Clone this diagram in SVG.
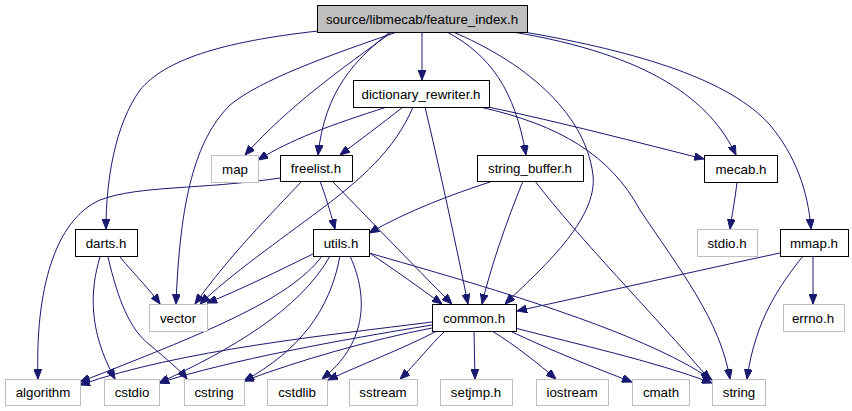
<svg xmlns="http://www.w3.org/2000/svg" width="852" height="411" viewBox="0 0 852 411">
<style>
text{font-family:"Liberation Sans",Arial,sans-serif;font-size:13.3px;fill:#000;text-anchor:middle}
.n rect{fill:#fff;stroke:#000;stroke-width:1}
.g rect{fill:#fff;stroke:#bfbfbf;stroke-width:1}
.root rect{fill:#bfbfbf;stroke:#000;stroke-width:1}
#edges path{fill:none;stroke:#191970;stroke-width:1;marker-end:url(#ah)}
</style>
<defs>
<marker id="ah" viewBox="0 0 10 8" refX="10" refY="4" markerWidth="10" markerHeight="8" markerUnits="userSpaceOnUse" orient="auto">
<path d="M0,0 L10,4 L0,8 z" fill="#191970" stroke="#191970"/>
</marker>
</defs>
<rect width="852" height="411" fill="#fff"/>
<g id="edges">
<path d="M422,32 L422,80"/>
<path d="M318,31 C220,42 165,60 140,90 C115,125 106,180 106,229"/>
<path d="M397,32 C330,55 260,80 230,105 C195,140 180,200 176,304"/>
<path d="M392,32 C340,70 290,105 245,155"/>
<path d="M390,32 C355,60 325,90 318,155"/>
<path d="M447,32 C490,55 515,90 526,155"/>
<path d="M453,32 C520,60 585,110 593,175 C598,220 540,270 505,304"/>
<path d="M513,32 C650,55 710,100 736,155"/>
<path d="M524,32 C640,52 730,80 770,125 C795,155 808,190 811,229"/>
<path d="M387,107 C330,125 290,140 258,160"/>
<path d="M403,107 C380,125 360,140 340,155"/>
<path d="M413,107 C395,150 360,180 320,210 C280,240 230,275 200,304"/>
<path d="M425,107 C440,170 455,240 468,304"/>
<path d="M488,107 C560,122 640,143 704,159"/>
<path d="M480,107 C560,125 610,155 640,210 C680,270 720,320 730,379"/>
<path d="M320,181 C325,195 330,210 335,229"/>
<path d="M332,181 C370,220 410,262 452,304"/>
<path d="M302,181 C270,215 230,255 195,304"/>
<path d="M280,178 C200,190 140,185 100,200 C55,220 35,290 38,379"/>
<path d="M493,181 C450,195 410,210 369,233"/>
<path d="M523,181 C505,225 490,270 482,304"/>
<path d="M535,181 C580,240 650,310 710,380"/>
<path d="M737,182 C735,200 732,215 730,229"/>
<path d="M780,253 C700,270 600,293 517,311"/>
<path d="M813,256 L813,304"/>
<path d="M803,256 C780,285 755,320 747,379"/>
<path d="M120,257 C135,275 150,290 160,304"/>
<path d="M100,257 C90,290 88,330 115,379"/>
<path d="M108,257 C118,300 130,330 150,345 C165,358 180,370 187,379"/>
<path d="M313,254 C280,270 240,290 207,303"/>
<path d="M322,256 C290,300 200,335 80,382"/>
<path d="M330,256 C300,310 230,350 159,383"/>
<path d="M340,256 C330,310 300,350 244,381"/>
<path d="M350,256 C370,300 365,345 322,379"/>
<path d="M368,252 C395,270 420,288 442,304"/>
<path d="M369,253 C480,285 640,330 712,380"/>
<path d="M432,322 C330,335 180,350 80,385"/>
<path d="M432,325 C340,340 230,360 159,383"/>
<path d="M432,328 C370,340 300,360 244,381"/>
<path d="M437,331 C400,350 360,365 328,380"/>
<path d="M445,331 C430,345 415,365 400,379"/>
<path d="M474,331 L475,379"/>
<path d="M492,331 C515,345 540,365 556,379"/>
<path d="M510,331 C550,350 595,368 632,382"/>
<path d="M515,328 C580,345 650,360 712,383"/>
</g>
<g id="feature_index" class="root"><rect x="317.5" y="5.5" width="210" height="27"/><text x="422" y="23.5">source/libmecab/feature_index.h</text></g>
<g id="dictionary_rewriter" class="n"><rect x="353.5" y="80.5" width="136" height="27"/><text x="421" y="98.5">dictionary_rewriter.h</text></g>
<g id="map" class="g"><rect x="211.5" y="155.5" width="47" height="27"/><text x="235" y="173.5">map</text></g>
<g id="freelist" class="n"><rect x="280.5" y="155.5" width="72" height="26"/><text x="316" y="173">freelist.h</text></g>
<g id="string_buffer" class="n"><rect x="477.5" y="155.5" width="106" height="26"/><text x="530" y="173">string_buffer.h</text></g>
<g id="mecab" class="n"><rect x="704.5" y="155.5" width="73" height="27"/><text x="741" y="173.5">mecab.h</text></g>
<g id="darts" class="n"><rect x="75.5" y="229.5" width="62" height="27"/><text x="106" y="247.5">darts.h</text></g>
<g id="utils" class="n"><rect x="313.5" y="229.5" width="56" height="27"/><text x="341" y="247.5">utils.h</text></g>
<g id="stdio" class="g"><rect x="697.5" y="229.5" width="60" height="27"/><text x="727" y="247.5">stdio.h</text></g>
<g id="mmap" class="n"><rect x="780.5" y="229.5" width="68" height="27"/><text x="814" y="247.5">mmap.h</text></g>
<g id="vector" class="g"><rect x="149.5" y="304.5" width="58" height="27"/><text x="178" y="322.5">vector</text></g>
<g id="common" class="n"><rect x="432.5" y="304.5" width="84" height="27"/><text x="474" y="322.5">common.h</text></g>
<g id="errno" class="g"><rect x="783.5" y="304.5" width="61" height="27"/><text x="813" y="322.5">errno.h</text></g>
<g id="algorithm" class="g"><rect x="5.5" y="379.5" width="75" height="26"/><text x="43" y="397">algorithm</text></g>
<g id="cstdio" class="g"><rect x="104.5" y="379.5" width="55" height="26"/><text x="132" y="397">cstdio</text></g>
<g id="cstring" class="g"><rect x="184.5" y="379.5" width="60" height="26"/><text x="214" y="397">cstring</text></g>
<g id="cstdlib" class="g"><rect x="267.5" y="379.5" width="60" height="26"/><text x="297" y="397">cstdlib</text></g>
<g id="sstream" class="g"><rect x="349.5" y="379.5" width="68" height="26"/><text x="383" y="397">sstream</text></g>
<g id="setjmp" class="g"><rect x="440.5" y="379.5" width="72" height="26"/><text x="476" y="397">setjmp.h</text></g>
<g id="iostream" class="g"><rect x="536.5" y="379.5" width="72" height="26"/><text x="572" y="397">iostream</text></g>
<g id="cmath" class="g"><rect x="632.5" y="379.5" width="57" height="26"/><text x="661" y="397">cmath</text></g>
<g id="string" class="g"><rect x="712.5" y="379.5" width="53" height="26"/><text x="739" y="397">string</text></g>
</svg>
